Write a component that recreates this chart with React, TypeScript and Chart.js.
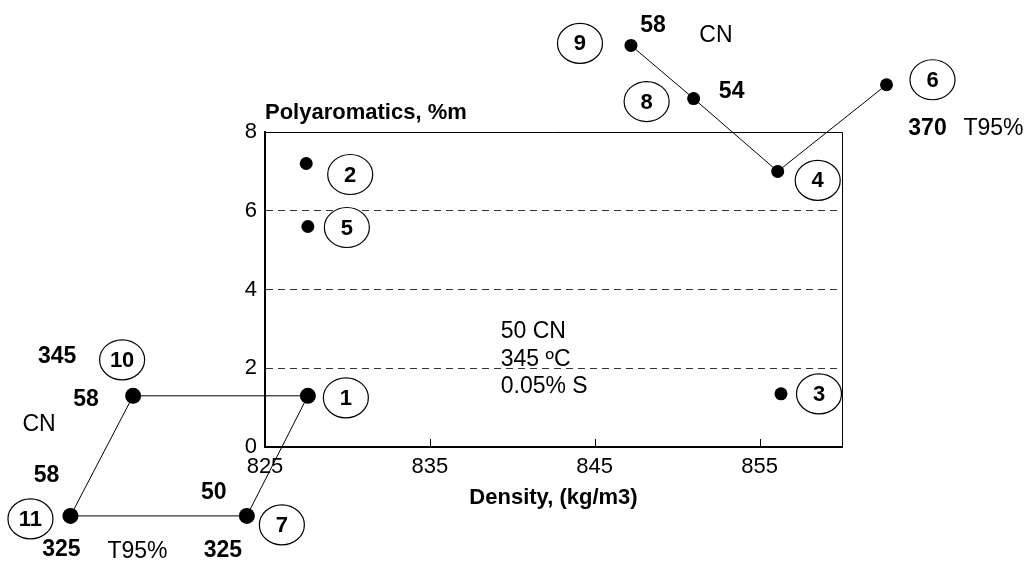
import React, { useEffect, useRef } from "react";
import { Chart, registerables } from "chart.js";

Chart.register(...registerables);

// ---- axis definitions ----
const X_MIN = 825;
const X_MAX = 860;
const Y_MIN = 0;
const Y_MAX = 8;
const X_TICKS = [825, 835, 845, 855];
const X_TICK_LABELS = ["825", "835", "845", "855"];
const Y_TICKS = [0, 2, 4, 6, 8];
const Y_TICK_LABELS = ["0", "2", "4", "6", "8"];
const X_TITLE = "Density, (kg/m3)";
const Y_TITLE = "Polyaromatics, %m";

// ---- samples ----
const SAMPLE_IDS = ["1", "2", "3", "4", "5", "6", "7", "8", "9", "10", "11"];
const DENSITY = [827.6, 827.5, 856.3, 856.1, 827.6, 862.7, 823.9, 851.0, 847.2, 817.0, 813.2];
const POLYAROMATICS = [1.3, 7.2, 1.35, 7.0, 5.6, 9.2, -1.75, 8.85, 10.2, 1.3, -1.75];

// connected sample paths
const PATH_A = ["1", "10", "11", "7", "1"];
const PATH_B = ["9", "8", "4", "6"];

// reference spec note
const NOTE_LINES = ["50 CN", "345 ºC", "0.05% S"];

// ---- layout of the annotations (pixel offsets from the sample marker) ----
const CIRCLE_OFFSETS: Record<string, [number, number]> = {
  "1": [38, 2],
  "2": [44, 11],
  "3": [38, 0],
  "4": [40, 9],
  "5": [39, 1],
  "6": [46, -5],
  "7": [35, 9],
  "8": [-47, 3],
  "9": [-51, -2],
  "10": [-11, -36],
  "11": [-40, 3],
};

const TEXT_LABELS = [
  { at: "9", text: "58", dx: 22, dy: -20, bold: true },
  { at: "9", text: "CN", dx: 85, dy: -10, bold: false },
  { at: "8", text: "54", dx: 38, dy: -7, bold: true },
  { at: "6", text: "370", dx: 41, dy: 44, bold: true },
  { at: "6", text: "T95%", dx: 107, dy: 44, bold: false },
  { at: "10", text: "345", dx: -76, dy: -39, bold: true },
  { at: "10", text: "58", dx: -47, dy: 4, bold: true },
  { at: "10", text: "CN", dx: -94, dy: 29, bold: false },
  { at: "11", text: "58", dx: -24, dy: -40, bold: true },
  { at: "7", text: "50", dx: -33, dy: -23, bold: true },
  { at: "11", text: "325", dx: -9, dy: 34, bold: true },
  { at: "11", text: "T95%", dx: 67, dy: 36, bold: false },
  { at: "7", text: "325", dx: -24, dy: 35, bold: true },
];

const FONT = "'Liberation Sans', Arial, Helvetica, sans-serif";

const pointOf = (id: string) => {
  const i = SAMPLE_IDS.indexOf(id);
  return { x: DENSITY[i], y: POLYAROMATICS[i] };
};

const overlayPlugin = {
  id: "overlay",
  beforeDatasetsDraw(chart: any) {
    const { ctx, chartArea } = chart;
    const xs = chart.scales.x;
    ctx.save();
    // top and right frame
    ctx.strokeStyle = "#000";
    ctx.lineWidth = 1;
    ctx.beginPath();
    ctx.moveTo(chartArea.left, chartArea.top + 0.5);
    ctx.lineTo(chartArea.right + 0.5, chartArea.top + 0.5);
    ctx.lineTo(chartArea.right + 0.5, chartArea.bottom);
    ctx.stroke();
    // inner tick marks on x axis
    ctx.beginPath();
    X_TICKS.forEach((v) => {
      if (v === X_MIN) return;
      const px = Math.round(xs.getPixelForValue(v)) + 0.5;
      ctx.moveTo(px, chartArea.bottom);
      ctx.lineTo(px, chartArea.bottom - 8);
    });
    ctx.stroke();
    // y title
    ctx.fillStyle = "#000";
    ctx.font = `bold 22px ${FONT}`;
    ctx.textAlign = "left";
    ctx.textBaseline = "middle";
    ctx.fillText(Y_TITLE, chartArea.left, chartArea.top - 19);
    ctx.restore();
    // markers lie partly outside the framed plot: let them be drawn over the whole canvas
    chart.$savedArea = chartArea;
    chart.chartArea = {
      left: 0,
      top: 0,
      right: chart.width,
      bottom: chart.height,
      width: chart.width,
      height: chart.height,
    };
  },
  afterDatasetsDraw(chart: any) {
    if (chart.$savedArea) {
      chart.chartArea = chart.$savedArea;
      chart.$savedArea = null;
    }
    const { ctx } = chart;
    const xs = chart.scales.x;
    const ys = chart.scales.y;
    ctx.save();
    ctx.textAlign = "center";
    ctx.textBaseline = "middle";
    // circled sample numbers
    SAMPLE_IDS.forEach((id) => {
      const p = pointOf(id);
      const off = CIRCLE_OFFSETS[id];
      const cx = xs.getPixelForValue(p.x) + off[0];
      const cy = ys.getPixelForValue(p.y) + off[1];
      ctx.beginPath();
      ctx.ellipse(cx, cy, 22.5, 20, 0, 0, Math.PI * 2);
      ctx.fillStyle = "#fff";
      ctx.fill();
      ctx.strokeStyle = "#000";
      ctx.lineWidth = 1.2;
      ctx.stroke();
      ctx.fillStyle = "#000";
      ctx.font = `bold 22px ${FONT}`;
      ctx.fillText(id, cx, cy + 1);
    });
    // value / unit labels
    TEXT_LABELS.forEach((t) => {
      const p = pointOf(t.at);
      const x = xs.getPixelForValue(p.x) + t.dx;
      const y = ys.getPixelForValue(p.y) + t.dy;
      ctx.font = `${t.bold ? "bold " : ""}23px ${FONT}`;
      ctx.fillStyle = "#000";
      ctx.fillText(t.text, x, y);
    });
    // spec note
    ctx.textAlign = "left";
    ctx.font = `23px ${FONT}`;
    const nx = xs.getPixelForValue(839.3);
    const ny = ys.getPixelForValue(3.0) + 3;
    NOTE_LINES.forEach((line, i) => {
      ctx.fillText(line, nx, ny + i * 27.5);
    });
    ctx.restore();
  },
};

export default function App() {
  const canvasRef = useRef<HTMLCanvasElement | null>(null);

  useEffect(() => {
    if (!canvasRef.current) return;
    const markerData = SAMPLE_IDS.map((id) => pointOf(id));
    const chart = new Chart(canvasRef.current, {
      type: "scatter",
      data: {
        datasets: [
          {
            data: PATH_A.map(pointOf),
            showLine: true,
            borderColor: "#000",
            borderWidth: 1,
            pointRadius: 0,
            clip: false as any,
          },
          {
            data: PATH_B.map(pointOf),
            showLine: true,
            borderColor: "#000",
            borderWidth: 1,
            pointRadius: 0,
            clip: false as any,
          },
          {
            data: markerData,
            showLine: false,
            backgroundColor: "#000",
            borderColor: "#000",
            borderWidth: 0,
            pointRadius: (c: any) => (PATH_A.includes(SAMPLE_IDS[c.dataIndex]) ? 8 : 6.5),
            clip: false as any,
          },
        ],
      },
      options: {
        animation: false,
        responsive: false,
        events: [],
        layout: { padding: { top: 132, right: 187, left: 0, bottom: 0 } },
        plugins: { legend: { display: false }, tooltip: { enabled: false } },
        scales: {
          x: {
            type: "linear",
            min: X_MIN,
            max: X_MAX,
            afterBuildTicks: (s: any) => {
              s.ticks = X_TICKS.map((v) => ({ value: v }));
            },
            afterFit: (s: any) => {
              s.height = 115;
            },
            grid: { display: false, drawTicks: false },
            border: { display: true, color: "#000", width: 2 },
            ticks: {
              padding: 7,
              color: "#000",
              autoSkip: false,
              maxRotation: 0,
              font: { family: FONT, size: 22 },
              callback: (v: any) => X_TICK_LABELS[X_TICKS.indexOf(Number(v))] ?? "",
            },
            title: {
              display: true,
              text: X_TITLE,
              color: "#000",
              font: { family: FONT, size: 22, weight: "bold" },
              padding: { top: 0, bottom: 51 },
            },
          },
          y: {
            type: "linear",
            min: Y_MIN,
            max: Y_MAX,
            afterBuildTicks: (s: any) => {
              s.ticks = Y_TICKS.map((v) => ({ value: v }));
            },
            afterFit: (s: any) => {
              s.width = 265;
            },
            grid: {
              drawTicks: false,
              lineWidth: 1,
              color: (c: any) =>
                c.tick && c.tick.value > Y_MIN && c.tick.value < Y_MAX ? "#333" : "rgba(0,0,0,0)",
            },
            border: { display: true, color: "#000", width: 2, dash: [7, 5] },
            ticks: {
              padding: 8,
              color: "#000",
              font: { family: FONT, size: 22 },
              callback: (v: any) => Y_TICK_LABELS[Y_TICKS.indexOf(Number(v))] ?? "",
            },
          },
        },
      },
      plugins: [overlayPlugin],
    } as any);
    return () => chart.destroy();
  }, []);

  return (
    <div style={{ position: "fixed", left: 0, top: 0, width: 1029, height: 562, background: "#fff" }}>
      <canvas ref={canvasRef} width={1029} height={562} style={{ display: "block" }} />
    </div>
  );
}
